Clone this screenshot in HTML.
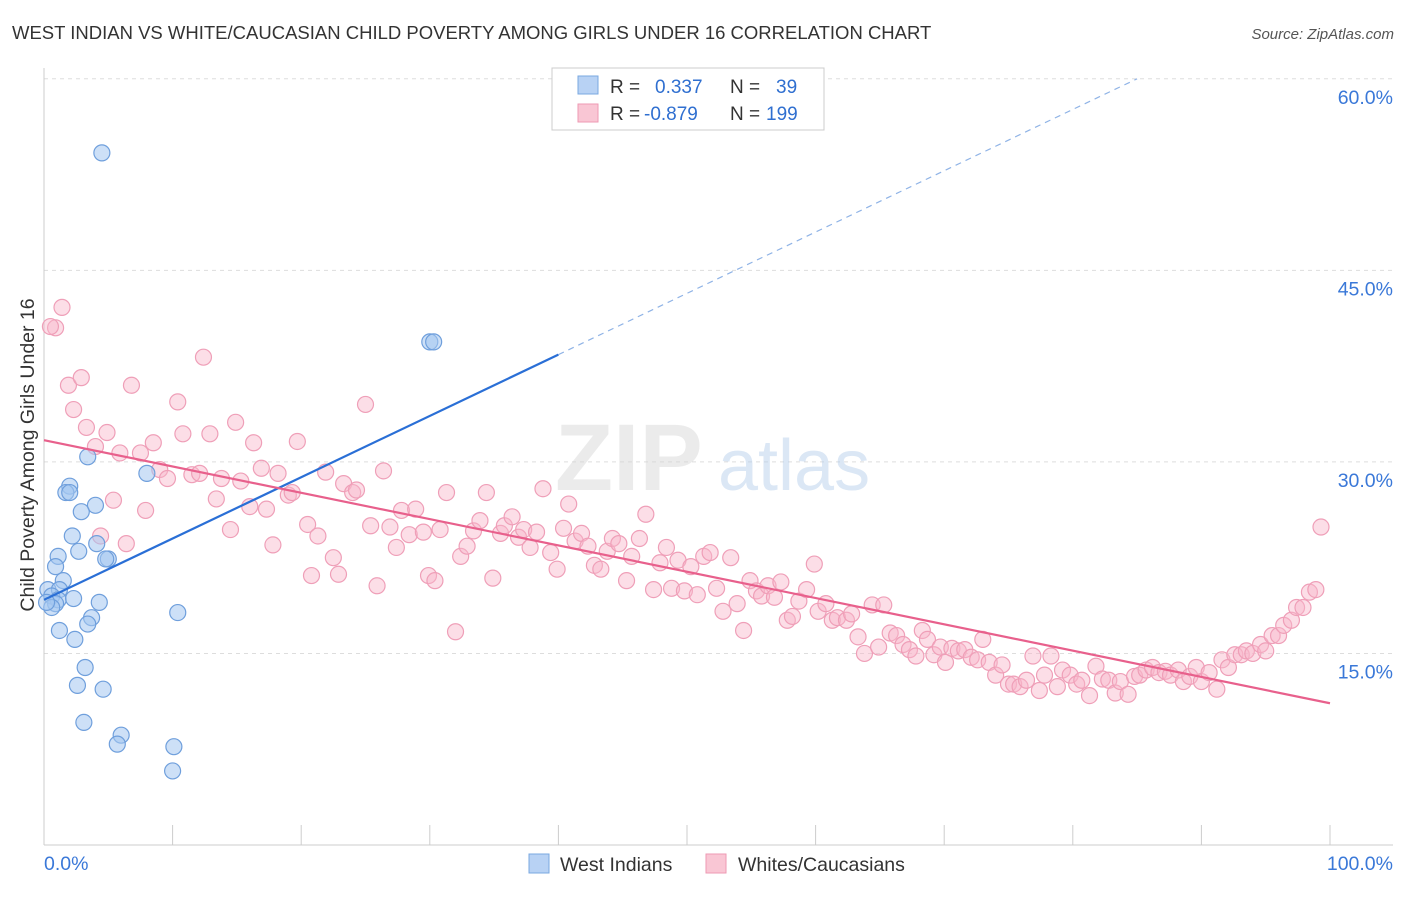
<!DOCTYPE html>
<html>
<head>
<meta charset="utf-8">
<style>
  html, body { margin: 0; padding: 0; background: #fff; }
  body { width: 1406px; height: 892px; overflow: hidden; font-family: "Liberation Sans", sans-serif; }
  svg text { font-family: "Liberation Sans", sans-serif; }
</style>
</head>
<body>
<svg id="chart" width="1406" height="892" xmlns="http://www.w3.org/2000/svg">
  <text x="12" y="39" font-size="18.5" fill="#333">WEST INDIAN VS WHITE/CAUCASIAN CHILD POVERTY AMONG GIRLS UNDER 16 CORRELATION CHART</text>
  <text x="1394" y="39" font-size="15" fill="#555" text-anchor="end" font-style="italic">Source: ZipAtlas.com</text>
  <g id="grid"></g>
  <g opacity="0.5">
    <text x="555" y="490" font-size="95" fill="#d8d8d8" font-family="Liberation Serif, serif" font-weight="bold">ZIP</text>
    <text x="718" y="490" font-size="72" fill="#b9d0ec">atlas</text>
  </g>
  <g id="axes"></g>
  <g id="pinkPts"></g>
  <g id="bluePts"></g>
  <g id="lines"></g>
  <text transform="translate(34,455) rotate(-90)" font-size="19.5" fill="#333" text-anchor="middle">Child Poverty Among Girls Under 16</text>
  <g>
    <rect x="552" y="68" width="272" height="62" fill="#fff" stroke="#ccc"/>
    <rect x="578" y="76" width="20" height="18" fill="#b8d2f4" stroke="#7aa8e0"/>
    <text x="610" y="93" font-size="19" fill="#333">R =</text>
    <text x="655" y="93" font-size="19" fill="#2f6fd0">0.337</text>
    <text x="730" y="93" font-size="19" fill="#333">N =</text>
    <text x="776" y="93" font-size="19" fill="#2f6fd0">39</text>
    <rect x="578" y="104" width="20" height="18" fill="#f9c6d4" stroke="#ee9ab3"/>
    <text x="610" y="120" font-size="19" fill="#333">R =</text>
    <text x="644" y="120" font-size="19" fill="#2f6fd0">-0.879</text>
    <text x="730" y="120" font-size="19" fill="#333">N =</text>
    <text x="766" y="120" font-size="19" fill="#2f6fd0">199</text>
  </g>
  <g>
    <rect x="529" y="854" width="20" height="19" fill="#b8d2f4" stroke="#7aa8e0"/>
    <text x="560" y="871" font-size="19.5" fill="#333">West Indians</text>
    <rect x="706" y="854" width="20" height="19" fill="#f9c6d4" stroke="#ee9ab3"/>
    <text x="738" y="871" font-size="19.5" fill="#333">Whites/Caucasians</text>
  </g>
</svg>
<script>
const yTicks = [15, 30, 45, 60];
const xTickLabels = ["0.0%", "100.0%"];
const blueX = [4.5,30.0,30.3,3.4,8.0,2.0,1.7,2.0,4.0,2.9,2.2,4.1,2.7,1.1,5.0,4.8,0.9,1.5,0.3,1.2,0.6,1.1,2.3,4.3,0.9,0.6,10.4,3.7,3.4,1.2,2.4,3.2,2.6,4.6,3.1,6.0,5.7,10.1,10.0,0.2];
const blueY = [54.2,39.4,39.4,30.4,29.1,28.1,27.6,27.6,26.6,26.1,24.2,23.6,23.0,22.6,22.4,22.4,21.8,20.7,20.0,20.0,19.5,19.2,19.3,19.0,18.9,18.6,18.2,17.8,17.3,16.8,16.1,13.9,12.5,12.2,9.6,8.6,7.9,7.7,5.8,19.0];
const pinkX = [1.4,0.9,0.5,1.9,2.9,2.3,3.3,4.0,4.9,5.4,4.4,6.4,6.8,7.9,8.5,7.5,5.9,9.0,9.6,10.4,10.8,11.5,12.1,12.4,12.9,13.4,13.8,14.5,14.9,15.3,16.0,16.3,16.9,17.3,17.8,18.2,19.0,19.3,19.7,20.5,20.8,21.3,21.9,22.5,22.9,23.3,24.0,24.3,25.0,25.4,25.9,26.4,26.9,27.4,27.8,28.4,28.9,29.5,29.9,30.4,30.8,31.3,32.0,32.4,32.9,33.4,33.9,34.4,34.9,35.5,35.8,36.4,36.9,37.3,37.8,38.3,38.8,39.4,39.9,40.4,40.8,41.3,41.8,42.3,42.8,43.3,43.8,44.2,44.7,45.3,45.7,46.3,46.8,47.4,47.9,48.4,48.8,49.3,49.8,50.3,50.8,51.3,51.8,52.3,52.8,53.4,53.9,54.4,54.9,55.4,55.8,56.3,56.8,57.3,57.8,58.2,58.7,59.3,59.9,60.2,60.8,61.3,61.7,62.4,62.8,63.3,63.8,64.4,64.9,65.3,65.8,66.3,66.8,67.3,67.8,68.3,68.7,69.2,69.7,70.1,70.6,71.1,71.6,72.1,72.6,73.0,73.5,74.0,74.5,75.0,75.4,75.9,76.4,76.9,77.4,77.8,78.3,78.8,79.2,79.8,80.3,80.7,81.3,81.8,82.3,82.8,83.3,83.7,84.3,84.8,85.2,85.7,86.2,86.7,87.2,87.6,88.2,88.6,89.1,89.6,90.0,90.6,91.2,91.6,92.1,92.6,93.1,93.5,94.0,94.6,95.0,95.5,96.0,96.4,97.0,97.4,97.9,98.4,98.9,99.3];
const pinkY = [42.1,40.5,40.6,36.0,36.6,34.1,32.7,31.2,32.3,27.0,24.2,23.6,36.0,26.2,31.5,30.7,30.7,29.4,28.7,34.7,32.2,29.0,29.1,38.2,32.2,27.1,28.7,24.7,33.1,28.5,26.5,31.5,29.5,26.3,23.5,29.1,27.4,27.6,31.6,25.1,21.1,24.2,29.2,22.5,21.2,28.3,27.6,27.8,34.5,25.0,20.3,29.3,24.9,23.3,26.2,24.3,26.3,24.5,21.1,20.7,24.7,27.6,16.7,22.6,23.4,24.6,25.4,27.6,20.9,24.4,25.0,25.7,24.1,24.7,23.3,24.5,27.9,22.9,21.6,24.8,26.7,23.8,24.4,23.4,21.9,21.6,23.0,24.0,23.6,20.7,22.6,24.0,25.9,20.0,22.1,23.3,20.1,22.3,19.9,21.8,19.6,22.6,22.9,20.1,18.3,22.5,18.9,16.8,20.7,19.9,19.5,20.3,19.4,20.6,17.6,17.9,19.1,20.0,22.0,18.3,18.9,17.6,17.8,17.6,18.1,16.3,15.0,18.8,15.5,18.8,16.6,16.4,15.7,15.3,14.8,16.8,16.1,14.9,15.5,14.3,15.4,15.2,15.3,14.7,14.5,16.1,14.3,13.3,14.1,12.6,12.6,12.4,12.9,14.8,12.1,13.3,14.8,12.4,13.7,13.3,12.6,12.9,11.7,14.0,13.0,12.9,11.9,12.8,11.8,13.2,13.3,13.7,13.9,13.5,13.6,13.3,13.7,12.8,13.2,13.9,12.8,13.5,12.2,14.5,13.9,14.9,14.9,15.2,15.0,15.7,15.2,16.4,16.4,17.2,17.6,18.6,18.6,19.8,20.0,24.9];
const blueTrend = [19.2, 0.48];
const pinkTrend = [31.7, -0.206];

const NS = "http://www.w3.org/2000/svg";
const X0 = 44, X1 = 1330, YB = 845, PPY = 12.77;
const sx = v => X0 + (X1 - X0) * v / 100;
const sy = v => YB - v * PPY;
function mk(tag, attrs, parent) {
  const e = document.createElementNS(NS, tag);
  for (const k in attrs) e.setAttribute(k, attrs[k]);
  parent.appendChild(e);
  return e;
}
const grid = document.getElementById('grid');
const axes = document.getElementById('axes');
yTicks.forEach(t => {
  const l = mk('line', {x1: X0, x2: 1393, y1: sy(t), y2: sy(t), stroke: '#ddd', 'stroke-dasharray': '4,4'}, grid);
  
  
  const tx = mk('text', {x: 1393, y: sy(t) + 25, 'font-size': 19.5, fill: '#3a78d8', 'text-anchor': 'end'}, axes);
  tx.textContent = t.toFixed(1) + '%';
  
  
});
const ax = mk('line', {x1: X0, x2: 1393, y1: YB, y2: YB, stroke: '#ccc'}, axes);


const ay = mk('line', {x1: X0, x2: X0, y1: 68, y2: YB, stroke: '#ccc'}, axes);


for (let i = 0; i <= 10; i++) {
  const tk = mk('line', {x1: sx(i * 10), x2: sx(i * 10), y1: YB - 20, y2: YB, stroke: '#ccc'}, axes);
  
  
}
const l0 = mk('text', {x: 44, y: 870, 'font-size': 19.5, fill: '#3a78d8'}, axes);
l0.textContent = xTickLabels[0];


const l1 = mk('text', {x: 1393, y: 870, 'font-size': 19.5, fill: '#3a78d8', 'text-anchor': 'end'}, axes);
l1.textContent = xTickLabels[1];



const pg = document.getElementById('pinkPts');
pinkX.forEach((x, i) => {
  const c = mk('circle', {cx: sx(x), cy: sy(pinkY[i]), r: 8, fill: 'rgba(248,182,202,0.45)', stroke: '#ef9fb8', 'stroke-width': 1.2}, pg);
  
  
});
const bg = document.getElementById('bluePts');
blueX.forEach((x, i) => {
  const c = mk('circle', {cx: sx(x), cy: sy(blueY[i]), r: 8, fill: 'rgba(164,198,240,0.55)', stroke: '#6f9fdc', 'stroke-width': 1.2}, bg);
  
  
});
const lg = document.getElementById('lines');
const bf = x => blueTrend[0] + blueTrend[1] * x;
const pf = x => pinkTrend[0] + pinkTrend[1] * x;
const bs = mk('line', {x1: sx(0), y1: sy(bf(0)), x2: sx(40), y2: sy(bf(40)), stroke: '#2a6fd6', 'stroke-width': 2.2}, lg);


const xEnd = (60 - blueTrend[0]) / blueTrend[1];
const bd = mk('line', {x1: sx(40), y1: sy(bf(40)), x2: sx(xEnd), y2: sy(bf(xEnd)), stroke: '#8fb3e6', 'stroke-width': 1.2, 'stroke-dasharray': '6,5'}, lg);


const pl = mk('line', {x1: sx(0), y1: sy(pf(0)), x2: sx(100), y2: sy(pf(100)), stroke: '#e8608c', 'stroke-width': 2.2}, lg);


</script>
</body>
</html>
